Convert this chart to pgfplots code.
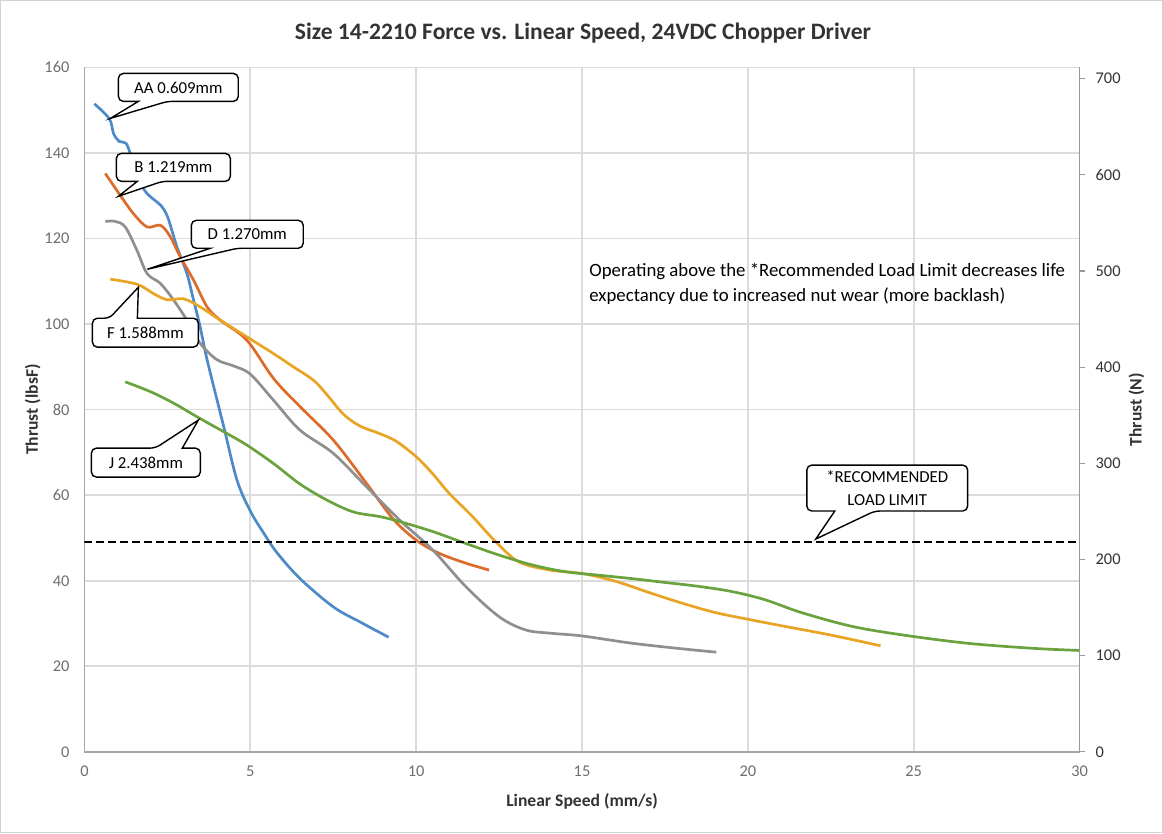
\documentclass[border=0pt]{standalone}
\usepackage{fontspec}
\setmainfont{Carlito}
\usepackage{pgfplots}
\pgfplotsset{compat=1.18}

\definecolor{cAA}{RGB}{78,138,200}
\definecolor{cB}{RGB}{220,108,44}
\definecolor{cD}{RGB}{143,143,143}
\definecolor{cF}{RGB}{232,164,34}
\definecolor{cJ}{RGB}{106,163,62}
\definecolor{lbl}{RGB}{110,110,110}

% callout with its pointer on the bottom edge: x1 y1 x2 y2 b1 b2 tipx tipy (pixels, y down)
\newcommand{\calloutB}[8]{%
  \draw[line width=0.7pt,fill=white,rounded corners=2.5pt]
    (#1,#2) -- (#3,#2) -- (#3,#4) -- (#6,#4) [sharp corners] -- (#7,#8) -- (#5,#4) [rounded corners=2.5pt] -- (#1,#4) -- cycle;}
% callout with its pointer on the top edge
\newcommand{\calloutT}[8]{%
  \draw[line width=0.7pt,fill=white,rounded corners=2.5pt]
    (#1,#4) -- (#1,#2) -- (#5,#2) [sharp corners] -- (#7,#8) -- (#6,#2) [rounded corners=2.5pt] -- (#3,#2) -- (#3,#4) -- cycle;}

\begin{document}
\begin{tikzpicture}
\draw[gray!35,line width=0.5pt] (0,0) rectangle (581.5pt,416.5pt);

\begin{axis}[
  at={(42pt,40.5pt)}, anchor=south west,
  scale only axis, width=498pt, height=342.5pt,
  xmin=0, xmax=30, ymin=0, ymax=160,
  xtick={0,5,...,30}, ytick={0,20,...,160},
  axis x line*=bottom, axis y line*=left,
  axis line style={gray!70,line width=0.7pt,-},
  grid=major, major grid style={gray!28,line width=0.85pt},
  tick style={draw=none},
  /pgf/number format/assume math mode=true,
  ticklabel style={font=\fontsize{8.2}{10}\selectfont, text=lbl},
  xticklabel style={yshift=-3.5pt},
  yticklabel style={xshift=-4pt},
  xlabel={Linear Speed (mm/s)},
  ylabel={Thrust (lbsF)},
  label style={font=\fontsize{8.8}{10}\selectfont\bfseries, text=black!80},
  xlabel style={at={(axis description cs:0.5,-0.073)}, anchor=center},
  ylabel style={at={(axis description cs:-0.052,0.5)}, anchor=center, rotate=0},
  every axis plot/.append style={line width=1.35pt, smooth, tension=0.55, no markers},
]
\addplot[cAA] coordinates {
 (0.3,151.5) (0.75,148) (0.88,144.5) (1.05,142.7) (1.25,142.3) (1.4,139.5)
 (1.6,135) (1.81,131.3) (2.06,129.3) (2.31,127.7) (2.51,125)
 (2.79,118) (3.09,111.8) (3.29,105.6) (3.49,99.3) (3.7,91.6) (4.2,76)
 (4.6,63.5) (5.0,56.3) (5.4,51.2) (5.8,46.6) (6.5,40.5) (7.5,33.9)
 (8.3,30.4) (9.17,26.8)};
\addplot[cB] coordinates {
 (0.63,135.2) (1.08,130.1) (1.48,125.8) (1.89,122.7) (2.29,123.1) (2.59,120.4)
 (2.89,115.7) (3.29,110.3) (3.7,104) (4.1,100.9) (4.9,96.2) (5.7,87.3)
 (6.5,80.7) (7.5,72.9) (8.5,62.8) (9.3,54.5) (10.0,49.5) (10.7,46.4)
 (11.5,44.1) (12.2,42.5)};
\addplot[cD] coordinates {
 (0.63,124) (0.93,124) (1.23,122.7) (1.58,117.3) (1.89,111.8) (2.29,109.5)
 (2.69,105.6) (3.09,100.9) (3.49,95.5) (3.99,91.7) (4.5,90.2) (5.0,88.3)
 (5.7,82.2) (6.5,75.2) (7.5,69.8) (8.5,62) (9.5,54.2) (10.5,47.2)
 (11.5,38.6) (12.5,31.6) (13.3,28.5) (14.1,27.7) (15.0,27.1) (16.5,25.4)
 (18,24.1) (19.05,23.3)};
\addplot[cF] coordinates {
 (0.78,110.5) (1.59,109.3) (2.09,107.1) (2.49,105.7) (2.99,105.9) (3.49,104)
 (4.1,100.9) (4.9,97) (5.7,93.1) (6.3,90) (6.9,86.9) (7.3,83.6) (7.8,79)
 (8.3,76.2) (8.9,74.4) (9.4,72.6) (10.0,69) (10.5,65) (11.0,60.4) (11.7,55)
 (12.4,49.1) (13.1,44.4) (14.03,42.5) (15.0,41.7) (16,39.9) (17,37.3)
 (18,34.8) (19,32.6) (20,31.0) (21,29.5) (22.5,27.3) (24,24.8)};
\addplot[cJ] coordinates {
 (1.23,86.5) (1.99,84.2) (2.69,81.5) (3.49,77.9) (4.3,74.4) (4.9,71.7)
 (5.7,67.4) (6.5,62.6) (7.3,58.9) (8.1,56.1) (8.9,55) (9.52,53.8) (10.5,51.5)
 (11.5,48.7) (12.5,46) (13.5,43.7) (14.5,42.1) (15.5,41.3) (16.5,40.5)
 (17.5,39.6) (18.5,38.7) (19.5,37.5) (20.5,35.6) (21.6,32.6) (23.1,29.4)
 (24.6,27.4) (26.6,25.4) (28.6,24.2) (30,23.7)};
\addplot[black, dash pattern=on 4pt off 2pt, line width=0.8pt, sharp plot] coordinates {(0,49) (30,49)};
\end{axis}

\begin{axis}[
  at={(42pt,40.5pt)}, anchor=south west,
  scale only axis, width=498pt, height=342.5pt,
  xmin=0, xmax=30, ymin=0, ymax=711.72,
  axis x line=none, axis y line*=right,
  axis line style={gray!80,line width=0.7pt,-},
  ytick={0,100,...,700},
  tick align=outside, major tick length=2.5pt,
  tick style={gray!80,line width=0.6pt},
  /pgf/number format/assume math mode=true,
  yticklabel style={font=\fontsize{8.2}{10}\selectfont, text=black!80, xshift=2pt},
  ylabel={Thrust (N)},
  ylabel style={at={(axis description cs:1.0572,0.5)}, anchor=center, rotate=0,
    font=\fontsize{8.8}{10}\selectfont\bfseries, text=black!80},
]
\end{axis}

\begin{scope}[x=0.5pt,y=-0.5pt,shift={(0,416.5pt)}]
  \node[font=\fontsize{11.8}{14}\selectfont\bfseries, text=black!80] at (583,33) {Size 14-2210 Force vs. Linear Speed, 24VDC Chopper Driver};
  \calloutB{118}{73}{238}{101}{138}{167}{110}{118}
  \node[font=\fontsize{8.4}{10}\selectfont] at (178,87) {AA 0.609mm};
  \calloutB{116}{153}{230}{181}{137}{162}{118}{196}
  \node[font=\fontsize{8.4}{10}\selectfont] at (173,167) {B 1.219mm};
  \calloutB{191}{220}{303}{248}{210}{237}{147}{269}
  \node[font=\fontsize{8.4}{10}\selectfont] at (247,234) {D 1.270mm};
  \calloutT{92}{318}{198}{347}{109}{137}{138}{287}
  \node[font=\fontsize{8.4}{10}\selectfont] at (145,332.5) {F 1.588mm};
  \calloutT{91}{448}{200}{477}{155}{182}{198}{420}
  \node[font=\fontsize{8.4}{10}\selectfont] at (145.5,462.5) {J 2.438mm};
  \calloutB{807}{465}{968}{511}{835}{875}{816}{539}
  \node[font=\fontsize{8.4}{11.5}\selectfont, align=center] at (887.5,488) {*RECOMMENDED\\LOAD LIMIT};
  \node[font=\fontsize{9.4}{12.5}\selectfont, align=left, anchor=west, inner sep=0pt]
    at (589,283.5) {Operating above the *Recommended Load Limit decreases life\\expectancy due to increased nut wear (more backlash)};
\end{scope}
\end{tikzpicture}
\end{document}
